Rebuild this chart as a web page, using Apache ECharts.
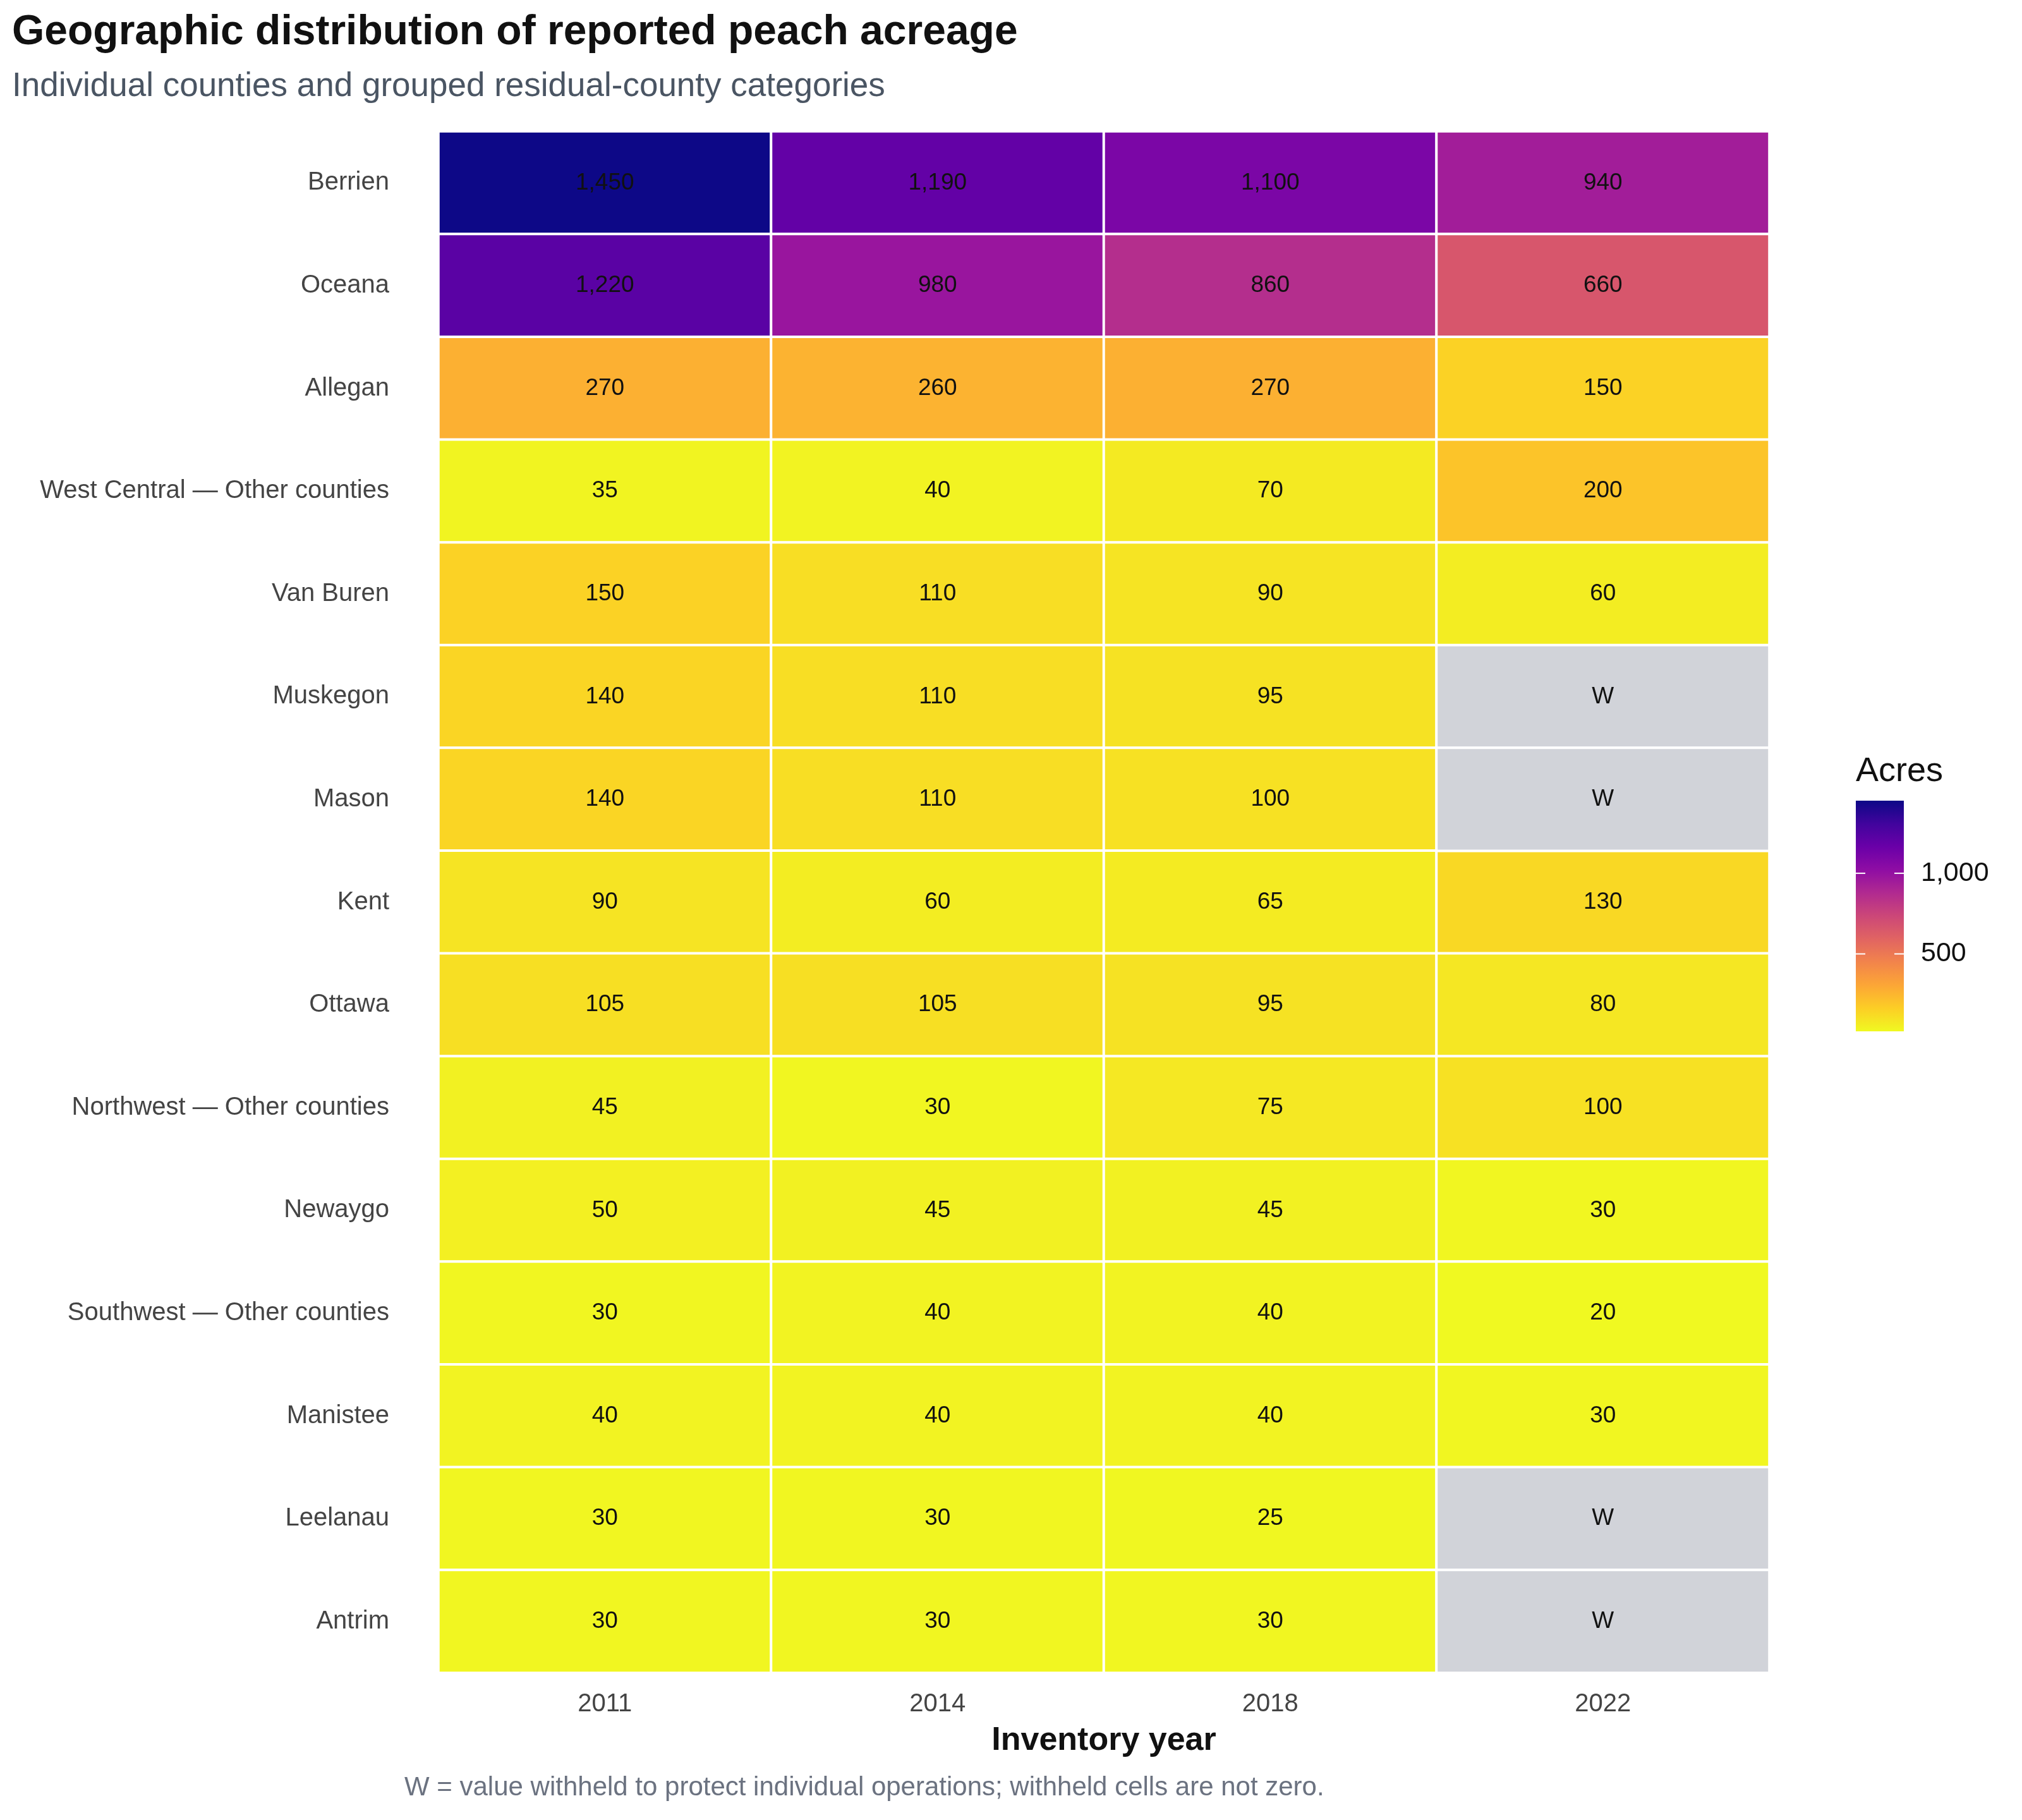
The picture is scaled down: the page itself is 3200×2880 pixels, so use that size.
<!DOCTYPE html><html><head><meta charset="utf-8"><script src="https://cdn.jsdelivr.net/npm/echarts@6/dist/echarts.min.js"></script>
<style>body{margin:0}#c{width:3200px;height:2880px}</style></head><body><div id="c"></div><script>
const years=['2011','2014','2018','2022'];
const counties=['Berrien','Oceana','Allegan','West Central — Other counties','Van Buren','Muskegon','Mason','Kent','Ottawa','Northwest — Other counties','Newaygo','Southwest — Other counties','Manistee','Leelanau','Antrim'];
const v2011=[1450,1220,270,35,150,140,140,90,105,45,50,30,40,30,30];
const v2014=[1190,980,260,40,110,110,110,60,105,30,45,40,40,30,30];
const v2018=[1100,860,270,70,90,95,100,65,95,75,45,40,40,25,30];
const v2022=[940,660,150,200,60,null,null,130,80,100,30,20,30,null,null];
const cols=[v2011,v2014,v2018,v2022];
const plasma=['#0d0887','#41049d','#6a00a8','#8f0da4','#b12a90','#cc4778','#e16462','#f2844b','#fca636','#fcce25','#f0f921'];
const vmin=20,vmax=1450;
const data=[],wdata=[];
cols.forEach((c,i)=>c.forEach((v,j)=>{if(v==null)wdata.push([i,j,0]);else data.push([i,j,v]);}));
const fmt=n=>n.toLocaleString('en-US');
const F='Liberation Sans';
const ch=echarts.init(document.getElementById('c'));
const by=1267,bh=365,bx=2937;
const ty=v=>by+bh*(vmax-v)/(vmax-vmin);
const stops=plasma.map((c,i)=>({offset:i/10,color:c}));
ch.setOption({
backgroundColor:'#fff',
title:[{text:'Geographic distribution of reported peach acreage',left:14,top:14,textStyle:{fontFamily:F,fontSize:66,fontWeight:'bold',color:'#111'}},
{text:'Individual counties and grouped residual-county categories',left:14,top:106,textStyle:{fontFamily:F,fontSize:53,fontWeight:'normal',color:'#4a5563'}}],
grid:{left:694,right:400,top:208,bottom:233},
xAxis:{type:'category',data:years,name:'Inventory year',nameLocation:'middle',nameGap:82,nameTextStyle:{fontFamily:F,fontSize:52,fontWeight:'bold',color:'#111'},axisLine:{show:false},axisTick:{show:false},axisLabel:{fontFamily:F,fontSize:40,color:'#444',margin:30},splitLine:{show:false}},
yAxis:{type:'category',data:counties,inverse:true,axisLine:{show:false},axisTick:{show:false},axisLabel:{fontFamily:F,fontSize:40,color:'#444',margin:78},splitLine:{show:false}},
visualMap:{show:false,seriesIndex:0,min:vmin,max:vmax,inRange:{color:plasma.slice().reverse()}},
series:[{type:'heatmap',data:data,itemStyle:{borderColor:'#fff',borderWidth:4},label:{show:true,formatter:p=>fmt(p.value[2]),fontFamily:F,fontSize:37,color:'#111'}},
{type:'heatmap',data:wdata,itemStyle:{color:'#d1d3d9',borderColor:'#fff',borderWidth:4},label:{show:true,formatter:'W',fontFamily:F,fontSize:37,color:'#111'}}],
graphic:[
{type:'text',left:2937,top:1194,style:{text:'Acres',font:'54px '+F,fill:'#111'}},
{type:'rect',shape:{x:bx,y:by,width:76,height:bh},style:{fill:new echarts.graphic.LinearGradient(0,0,0,1,stops)}},
...[1000,500].flatMap(v=>[
{type:'line',shape:{x1:bx,y1:ty(v),x2:bx+15,y2:ty(v)},style:{stroke:'#fff',lineWidth:2}},
{type:'line',shape:{x1:bx+61,y1:ty(v),x2:bx+76,y2:ty(v)},style:{stroke:'#fff',lineWidth:2}},
{type:'text',x:bx+103,y:ty(v),style:{text:fmt(v),font:'43px '+F,fill:'#111',textVerticalAlign:'middle'}}]),
{type:'text',left:640,top:2808,style:{text:'W = value withheld to protect individual operations; withheld cells are not zero.',font:'42px '+F,fill:'#6b7280'}}
]});
</script></body></html>
